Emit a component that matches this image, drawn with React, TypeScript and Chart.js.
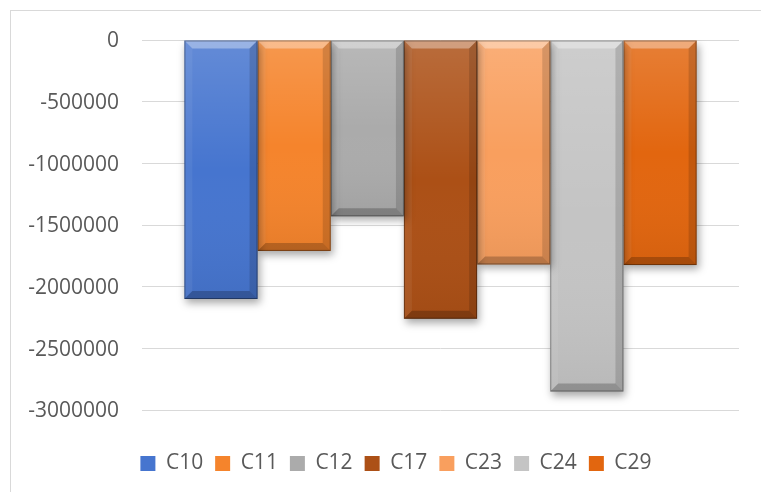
import React, { useEffect, useRef } from "react";
import { Chart, registerables } from "chart.js";

Chart.register(...registerables);

const categories = [""];
const seriesNames = ["C10", "C11", "C12", "C17", "C23", "C24", "C29"];
const seriesValues = [-2100000, -1710000, -1430000, -2260000, -1820000, -2850000, -1825000];
const seriesColors = ["#4675CF", "#F5842C", "#ABABAB", "#AC5016", "#F99F5E", "#C4C4C4", "#E2660F"];
const yMin = -3000000;
const yMax = 0;
const yStep = 500000;

const bevelPlugin = {
  id: "bevel",
  afterLayout(chart: any) {
    const lg = chart.legend;
    if (lg) {
      lg.left = 50;
      lg.right = 742;
      lg.width = 692;
    }
  },
  beforeDatasetDraw(chart: any) {
    const ctx = chart.ctx;
    ctx.save();
    ctx.shadowColor = "rgba(0,0,0,0.35)";
    ctx.shadowBlur = 8;
    ctx.shadowOffsetX = 2;
    ctx.shadowOffsetY = 4;
  },
  afterDatasetDraw(chart: any, args: any) {
    const ctx = chart.ctx;
    ctx.restore();
    const poly = (pts: number[][], fill: string) => {
      ctx.beginPath();
      ctx.moveTo(pts[0][0], pts[0][1]);
      for (let i = 1; i < pts.length; i++) ctx.lineTo(pts[i][0], pts[i][1]);
      ctx.closePath();
      ctx.fillStyle = fill;
      ctx.fill();
    };
    args.meta.data.forEach((el: any) => {
      const { x, y, base, width } = el.getProps(["x", "y", "base", "width"], true);
      const l = x - width / 2;
      const r = x + width / 2;
      const t = Math.min(y, base);
      const b = Math.max(y, base);
      const bv = Math.min(8, (b - t) / 2);
      ctx.save();
      const g = ctx.createLinearGradient(0, t, 0, b);
      g.addColorStop(0, "rgba(255,255,255,0.16)");
      g.addColorStop(0.5, "rgba(255,255,255,0)");
      g.addColorStop(1, "rgba(0,0,0,0.06)");
      ctx.fillStyle = g;
      ctx.fillRect(l, t, r - l, b - t);
      poly([[l, t], [r, t], [r - bv, t + bv], [l + bv, t + bv]], "rgba(255,255,255,0.35)");
      poly([[l, t], [l + bv, t + bv], [l + bv, b - bv], [l, b]], "rgba(255,255,255,0.06)");
      poly([[r, t], [r - bv, t + bv], [r - bv, b - bv], [r, b]], "rgba(0,0,0,0.14)");
      poly([[l, b], [l + bv, b - bv], [r - bv, b - bv], [r, b]], "rgba(0,0,0,0.22)");
      ctx.strokeStyle = "rgba(0,0,0,0.35)";
      ctx.lineWidth = 1;
      ctx.strokeRect(l + 0.5, t + 0.5, r - l - 1, b - t - 1);
      ctx.restore();
    });
  },
};

export default function App() {
  const canvasRef = useRef<HTMLCanvasElement | null>(null);

  useEffect(() => {
    if (!canvasRef.current) return;
    const chart = new Chart(canvasRef.current, {
      type: "bar",
      data: {
        labels: categories,
        datasets: seriesNames.map((name, i) => ({
          label: name,
          data: [seriesValues[i]],
          backgroundColor: seriesColors[i],
          borderWidth: 0,
          categoryPercentage: 0.858,
          barPercentage: 1,
        })),
      },
      options: {
        responsive: false,
        animation: false,
        layout: { padding: { left: 10, right: 22, top: 40, bottom: 8 } },
        plugins: {
          tooltip: { enabled: false },
          title: { display: false },
          legend: {
            display: true,
            position: "bottom",
            labels: {
              boxWidth: 15,
              boxHeight: 15,
              padding: 12,
              color: "#595959",
              font: { family: "'Open Sans', sans-serif", size: 21 },
            },
          },
        },
        scales: {
          x: {
            type: "category",
            display: true,
            grid: { display: false },
            border: { display: false },
            ticks: { display: false },
            afterFit: (s: any) => {
              s.height = 31;
            },
          },
          y: {
            min: yMin,
            max: yMax,
            border: { display: false },
            grid: { color: "#D9D9D9", lineWidth: 1, drawTicks: false },
            ticks: {
              stepSize: yStep,
              padding: 23,
              labelOffset: 1.5,
              color: "#595959",
              font: { family: "'Open Sans', sans-serif", size: 21 },
              callback: (v: any) => String(v),
            },
            afterFit: (s: any) => {
              s.width = 132;
            },
          },
        },
      },
      plugins: [bevelPlugin],
    } as any);
    return () => chart.destroy();
  }, []);

  return (
    <div style={{ position: "absolute", left: 0, top: 0, width: 761, height: 492, overflow: "hidden", background: "#fff" }}>
      <div
        style={{
          position: "absolute",
          left: 10,
          top: 10,
          width: 800,
          height: 520,
          border: "1px solid #D9D9D9",
          boxSizing: "border-box",
        }}
      />
      <canvas ref={canvasRef} width={761} height={492} style={{ position: "absolute", left: 0, top: 0, width: 761, height: 492 }} />
    </div>
  );
}
